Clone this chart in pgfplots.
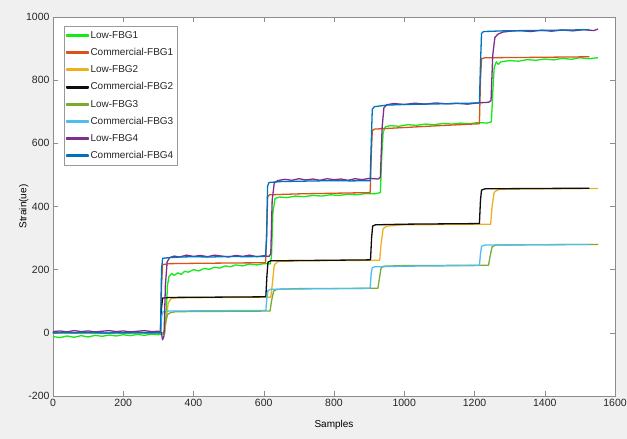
\documentclass[border=0pt]{standalone}
\usepackage{fontspec}
\setmainfont{Liberation Sans}
\usepackage{pgfplots}
\pgfplotsset{compat=1.18}
\definecolor{figbg}{HTML}{F0F0F0}
\definecolor{cLow1}{RGB}{20,235,20}
\definecolor{cCom1}{rgb}{0.85,0.325,0.098}
\definecolor{cLow2}{rgb}{0.929,0.694,0.125}
\definecolor{cCom2}{rgb}{0.05,0.05,0.05}
\definecolor{cLow3}{rgb}{0.466,0.674,0.188}
\definecolor{cCom3}{rgb}{0.301,0.745,0.933}
\definecolor{cLow4}{rgb}{0.494,0.184,0.556}
\definecolor{cCom4}{rgb}{0,0.447,0.741}
\begin{document}
\begin{tikzpicture}[x=1pt,y=1pt]
\path[use as bounding box] (0,0) rectangle (627,439);
\fill[figbg] (0,0) rectangle (627,439);
\begin{axis}[
  at={(53pt,43pt)}, anchor=south west,
  scale only axis, width=562pt, height=379pt,
  xmin=0, xmax=1600, ymin=-200, ymax=1000,
  xtick={0,200,...,1600}, ytick={-200,0,...,1000},
  tick pos=both, tick align=inside, major tick length=5pt,
  axis line style={black!45}, every tick/.style={black!45},
  axis background/.style={fill=white},
  ticklabel style={font=\fontsize{10.5}{12}\selectfont, text=black!85},
  /pgf/number format/assume math mode=true,
  /pgf/number format/1000 sep={},
  xlabel={Samples}, ylabel={Strain(ue)},
  label style={font=\fontsize{10.5}{12}\selectfont, text=black!85},
  every axis x label/.style={at={(axis description cs:0.5,-0.0765)}, anchor=center},
  every axis y label/.style={at={(axis description cs:-0.052,0.5)}, anchor=center, rotate=90},
  legend cell align=left,
  legend style={at={(0,1)}, anchor=north west, xshift=11pt, yshift=-9pt,
    draw=black!40, fill=white, font=\fontsize{10}{12}\selectfont, text=black!85,
    row sep=4.6pt, inner xsep=2pt, inner ysep=3pt},
  legend image code/.code={\fill[#1] (0pt,-0.9pt) rectangle (21pt,0.9pt);},
  every axis plot/.append style={line width=1.3pt, line join=round},
]
% Low-FBG1
\addplot[cLow1] coordinates {(0,-12)(20,-15)(40,-10)(60,-14)(80,-9)(100,-13)(120,-8)(140,-11)(160,-7)(180,-10)(200,-6)(220,-9)(240,-5)(260,-8)(280,-4)(300,-6)(318,-3)(322,60)(326,150)(330,178)(338,188)(345,182)(355,190)(365,185)(375,195)(385,192)(400,200)(415,196)(430,204)(445,201)(460,208)(475,205)(490,212)(505,209)(520,215)(540,212)(560,218)(580,215)(600,219)(618,218)(622,240)(626,380)(632,425)(645,430)(665,428)(690,433)(715,431)(740,435)(765,433)(790,437)(815,435)(840,439)(865,437)(890,441)(915,440)(932,444)(936,560)(940,635)(946,652)(960,656)(985,654)(1010,659)(1035,657)(1060,661)(1085,659)(1110,663)(1135,661)(1160,664)(1185,662)(1210,666)(1235,664)(1248,668)(1252,760)(1256,840)(1262,858)(1268,850)(1275,858)(1300,862)(1325,860)(1350,865)(1375,863)(1400,867)(1425,864)(1450,869)(1475,866)(1500,871)(1525,868)(1552,871)};
\addlegendentry{Low-FBG1}
% Commercial-FBG1
\addplot[cCom1] coordinates {(0,0)(306,0)(309,150)(312,216)(330,219)(400,220)(500,221)(605,222)(608,300)(611,430)(616,437)(700,440)(800,442)(903,444)(906,560)(909,640)(915,645)(1000,650)(1100,656)(1214,662)(1217,800)(1220,868)(1230,871)(1350,872)(1527,874)};
\addlegendentry{Commercial-FBG1}
% Low-FBG2
\addplot[cLow2] coordinates {(0,0)(318,0)(322,40)(328,95)(336,108)(350,111)(620,113)(624,150)(630,215)(640,226)(700,228)(930,230)(934,280)(940,330)(950,338)(1000,342)(1246,344)(1250,400)(1256,445)(1265,452)(1275,455)(1552,457)};
\addlegendentry{Low-FBG2}
% Commercial-FBG2
\addplot[cCom2] coordinates {(0,0)(306,0)(309,80)(312,110)(330,112)(600,114)(606,115)(609,180)(612,224)(620,228)(900,231)(904,232)(907,300)(910,338)(918,342)(1000,344)(1214,346)(1217,420)(1220,452)(1230,456)(1527,458)};
\addlegendentry{Commercial-FBG2}
% Low-FBG3
\addplot[cLow3] coordinates {(0,0)(316,0)(320,30)(326,58)(335,64)(350,67)(618,69)(622,100)(628,132)(638,138)(700,140)(925,141)(929,170)(934,205)(942,211)(1000,213)(1240,214)(1244,240)(1250,272)(1260,278)(1552,280)};
\addlegendentry{Low-FBG3}
% Commercial-FBG3
\addplot[cCom3] coordinates {(0,0)(306,0)(309,50)(312,66)(330,69)(600,71)(606,72)(609,110)(612,134)(620,138)(900,141)(903,142)(906,190)(909,206)(916,209)(1000,211)(1214,213)(1217,250)(1220,274)(1230,278)(1527,280)};
\addlegendentry{Commercial-FBG3}
% Low-FBG4
\addplot[cLow4] coordinates {(0,4)(20,6)(40,3)(60,7)(80,4)(100,6)(120,3)(140,5)(160,7)(180,4)(200,6)(220,3)(240,5)(260,7)(280,4)(300,5)(308,2)(312,-22)(316,-10)(320,150)(325,225)(332,238)(345,243)(360,240)(380,246)(400,242)(420,245)(440,241)(460,246)(480,243)(500,240)(520,245)(540,242)(560,246)(580,241)(600,244)(615,242)(620,250)(624,420)(630,475)(640,482)(660,486)(680,483)(700,488)(720,484)(740,487)(760,483)(780,488)(800,485)(820,487)(840,483)(860,488)(880,485)(900,489)(925,487)(932,492)(937,650)(942,712)(950,722)(970,726)(1000,723)(1030,727)(1060,724)(1090,728)(1120,725)(1150,727)(1180,724)(1210,728)(1240,730)(1247,735)(1252,880)(1258,935)(1266,945)(1280,952)(1300,955)(1330,957)(1360,954)(1390,958)(1420,955)(1450,959)(1480,956)(1510,960)(1540,957)(1552,962)};
\addlegendentry{Low-FBG4}
% Commercial-FBG4
\addplot[cCom4] coordinates {(0,0)(30,2)(60,0)(90,2)(120,1)(150,-1)(180,1)(210,0)(240,2)(270,0)(300,1)(306,0)(309,200)(312,236)(330,238)(360,240)(400,241)(450,240)(500,242)(550,241)(605,242)(608,300)(611,465)(615,476)(650,479)(700,480)(750,481)(800,482)(850,481)(903,482)(906,600)(909,708)(915,716)(950,721)(1000,723)(1050,724)(1100,725)(1150,726)(1214,728)(1217,850)(1220,948)(1226,954)(1280,956)(1350,957)(1420,958)(1480,959)(1527,960)};
\addlegendentry{Commercial-FBG4}
\end{axis}
\end{tikzpicture}
\end{document}
